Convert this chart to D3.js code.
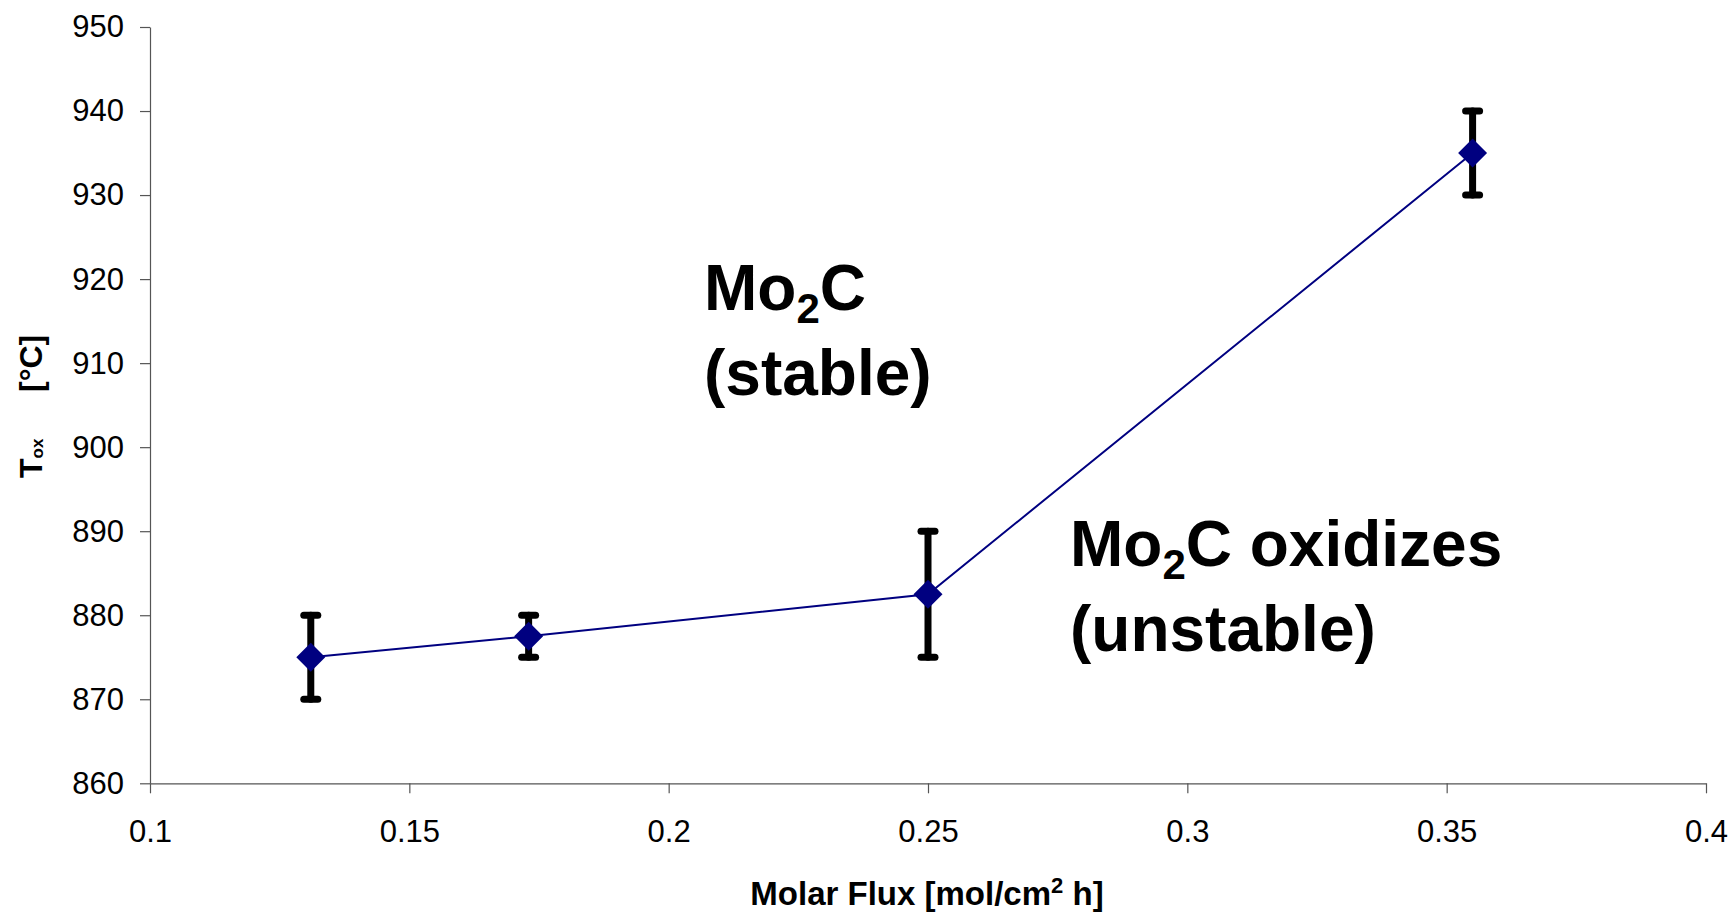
<!DOCTYPE html>
<html>
<head>
<meta charset="utf-8">
<script src="https://cdn.jsdelivr.net/npm/d3@7"></script>
<style>
  body { margin: 0; background: #fff; }
  svg text { font-family: "Liberation Sans", Arial, sans-serif; }
</style>
</head>
<body>
<div id="chart"></div>
<script>
// data
var flux = [0.131, 0.173, 0.25, 0.355];
var tox = [875, 877.5, 882.5, 935];
var errLow = [870, 875, 875, 930];
var errHigh = [880, 880, 890, 940];
var xTicks = [0.1, 0.15, 0.2, 0.25, 0.3, 0.35, 0.4];
var xTickLabels = ["0.1", "0.15", "0.2", "0.25", "0.3", "0.35", "0.4"];
var yTicks = [860, 870, 880, 890, 900, 910, 920, 930, 940, 950];

var width = 1735, height = 916,
    plotLeft = 150, plotRight = 1706, plotTop = 27, plotBottom = 783.3;

var svg = d3.select("#chart").append("svg")
    .attr("width", width)
    .attr("height", height);

var x = d3.scaleLinear().domain([0.1, 0.4]).range([plotLeft, plotRight]),
    y = d3.scaleLinear().domain([860, 950]).range([plotBottom, plotTop]);

var xAxis = d3.axisBottom(x).tickValues(xTicks)
    .tickFormat(function(d, i) { return xTickLabels[i]; })
    .tickSize(10).tickSizeOuter(0).tickPadding(27);
var yAxis = d3.axisLeft(y).tickValues(yTicks)
    .tickFormat(d3.format("d"))
    .tickSize(10).tickSizeOuter(0).tickPadding(16);

function styleAxis(g) {
  g.attr("font-family", null);
  g.selectAll("path, line").attr("stroke", "#555").attr("stroke-width", 1.2);
  g.selectAll("text").attr("fill", "#000").style("font-size", "31px");
}

svg.append("g")
    .attr("transform", "translate(0," + plotBottom + ")")
    .call(xAxis).call(styleAxis);

svg.append("g")
    .attr("transform", "translate(" + plotLeft + ",0)")
    .call(yAxis).call(styleAxis);

var pts = flux.map(function(f, i) {
  return {x: f, y: tox[i], lo: errLow[i], hi: errHigh[i]};
});

// error bars
var eb = svg.append("g").attr("stroke", "#000").attr("stroke-width", 7)
    .attr("stroke-linecap", "round").attr("fill", "none");
pts.forEach(function(d) {
  var cx = x(d.x);
  eb.append("line").attr("x1", cx).attr("x2", cx)
    .attr("y1", y(d.lo)).attr("y2", y(d.hi));
  eb.append("line").attr("x1", cx - 7).attr("x2", cx + 7)
    .attr("y1", y(d.lo)).attr("y2", y(d.lo));
  eb.append("line").attr("x1", cx - 7).attr("x2", cx + 7)
    .attr("y1", y(d.hi)).attr("y2", y(d.hi));
});

// series line
svg.append("path").datum(pts)
    .attr("fill", "none").attr("stroke", "#000080").attr("stroke-width", 2)
    .attr("d", d3.line().x(function(d) { return x(d.x); }).y(function(d) { return y(d.y); }));

// diamond markers
svg.selectAll(".pt").data(pts).enter().append("path")
    .attr("class", "pt")
    .attr("fill", "#000080")
    .attr("d", d3.symbol(d3.symbolSquare, 420))
    .attr("transform", function(d) { return "translate(" + x(d.x) + "," + y(d.y) + ") rotate(45)"; });

// axis titles
var xt = svg.append("text")
    .attr("x", 927).attr("y", 905)
    .attr("text-anchor", "middle")
    .attr("font-weight", "bold").style("font-size", "33px");
xt.append("tspan").text("Molar Flux [mol/cm");
xt.append("tspan").attr("dy", -12).style("font-size", "22px").text("2");
xt.append("tspan").attr("dy", 12).text(" h]");

var yt = svg.append("text")
    .attr("transform", "translate(42,478) rotate(-90)")
    .attr("font-weight", "bold").style("font-size", "32px");
yt.append("tspan").text("T");
yt.append("tspan").attr("dy", 1).style("font-size", "17px").text("ox");
yt.append("tspan").attr("x", 86).attr("dy", -1).text("[°C]");

// annotations
function label(x0, y0, first, second) {
  var t = svg.append("text").attr("font-weight", "bold").style("font-size", "64px");
  var l1 = t.append("tspan").attr("x", x0).attr("y", y0);
  l1.append("tspan").text("Mo");
  l1.append("tspan").attr("dy", 13).style("font-size", "42px").text("2");
  l1.append("tspan").attr("dy", -13).text(first);
  t.append("tspan").attr("x", x0).attr("y", y0 + 85).text(second);
}
label(704, 310, "C", "(stable)");
label(1070, 566, "C oxidizes", "(unstable)");
</script>
</body>
</html>
